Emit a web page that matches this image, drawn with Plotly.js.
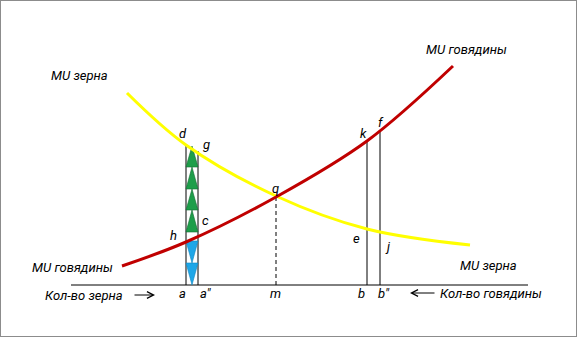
<!DOCTYPE html>
<html><head><meta charset="utf-8">
<script src="https://cdn.plot.ly/plotly-3.0.1.min.js"></script>
<style>html,body{margin:0;padding:0;background:#fff}#chart{width:577px;height:337px}</style>
</head><body><div id="chart"></div>
<script>
// MU beef (red) curve points
const beefX = [122,186,276,367,453];
const beefY = [266,242,197,141,66];
// MU grain (yellow) curve points
const grainX = [127,186,276,367,470];
const grainY = [93,145,196,229,245];
// quantity axis
const axisX = [71,528];
const axisY = 285;
// marked quantities and their tops
const markNames = ['a','a"','b','b"'];
const markX = [186,198,367,380];
const markTop = [145,151,141,130];
// equilibrium m / q
const mX = 276, qY = 197;
// triangle bounds in column a..a"
const greenBounds = [146,167,189,210,232];
const blueBounds = [241,263,285];

const traces = [];
traces.push({x:axisX,y:[axisY,axisY],mode:'lines',line:{color:'#000',width:1},hoverinfo:'skip'});
for(let i=0;i<markX.length;i++){
  traces.push({x:[markX[i],markX[i]],y:[markTop[i],axisY],mode:'lines',line:{color:'#000',width:1},hoverinfo:'skip'});
}
traces.push({x:[mX,mX],y:[qY,axisY],mode:'lines',line:{color:'#000',width:1,dash:'4px,3px'},hoverinfo:'skip'});
const cl = markX[0], cr = markX[1], cm = (cl+cr)/2;
for(let i=0;i<greenBounds.length-1;i++){
  const t=greenBounds[i], b=greenBounds[i+1];
  traces.push({x:[cm,cr,cl,cm],y:[t,b,b,t],mode:'lines',fill:'toself',fillcolor:'#1E9E4A',line:{color:'#146b32',width:0.6},hoverinfo:'skip'});
}
for(let i=0;i<blueBounds.length-1;i++){
  const t=blueBounds[i], b=blueBounds[i+1];
  traces.push({x:[cl,cr,cm,cl],y:[t,t,b,t],mode:'lines',fill:'toself',fillcolor:'#1FA7E8',line:{color:'#1386c0',width:0.6},hoverinfo:'skip'});
}
traces.push({x:grainX,y:grainY,mode:'lines',line:{color:'#FFFF00',width:3,shape:'spline',smoothing:1},hoverinfo:'skip'});
traces.push({x:beefX,y:beefY,mode:'lines',line:{color:'#C00000',width:3,shape:'spline',smoothing:1},hoverinfo:'skip'});

const F = {family:'Roboto, "Noto Sans", sans-serif', size:13, color:'#000'};
const labels = [
  ['MU зерна',79,75],['MU говядины',466,49],['MU говядины',72,267],['MU зерна',488,265],
  ['Кол-во зерна',84,295],['Кол-во говядины',491,293],
  ['d',183,133],['g',206,144],['c',205,220],['h',173,235],['a',182,293],['a"',205,293],
  ['q',275,188],['m',275,293],['k',363,133],['f',381,122],['e',356,238],['j',387,246],['b',361,293],['b"',384,293]
];
const ann = labels.map(l=>({text:'<i>'+l[0]+'</i>',x:l[1],y:l[2],xref:'x',yref:'y',showarrow:false,font:F,xanchor:'center',yanchor:'middle'}));
ann.push({x:155,y:295,ax:133,ay:295,axref:'x',ayref:'y',xref:'x',yref:'y',text:'',showarrow:true,arrowhead:5,arrowsize:1.3,arrowwidth:1,arrowcolor:'#000'});
ann.push({x:410,y:293,ax:436,ay:293,axref:'x',ayref:'y',xref:'x',yref:'y',text:'',showarrow:true,arrowhead:5,arrowsize:1.3,arrowwidth:1,arrowcolor:'#000'});

const layout = {
  width:577,height:337,margin:{l:0,r:0,t:0,b:0},showlegend:false,
  paper_bgcolor:'#fff',plot_bgcolor:'#fff',
  xaxis:{range:[0,577],visible:false,fixedrange:true},
  yaxis:{range:[337,0],visible:false,fixedrange:true},
  annotations:ann,
  shapes:[{type:'rect',xref:'paper',yref:'paper',x0:0,x1:1,y0:0,y1:1,line:{color:'#8c8c8c',width:2},fillcolor:'rgba(0,0,0,0)'}]
};
Plotly.newPlot('chart',traces,layout,{staticPlot:true,displayModeBar:false});
</script></body></html>
